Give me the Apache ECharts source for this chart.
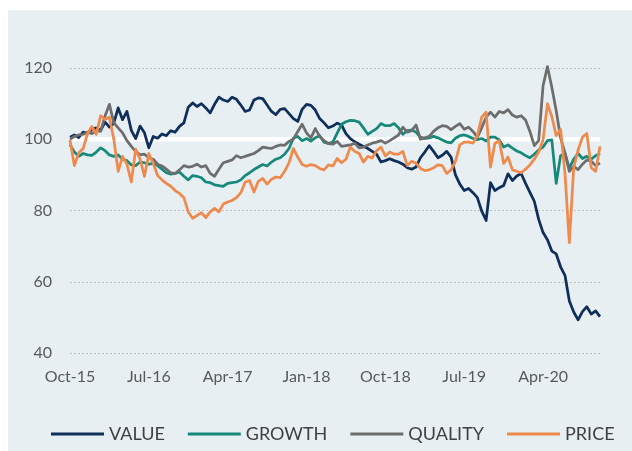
<!DOCTYPE html>
<html>
<head>
<meta charset="utf-8">
<script src="https://cdn.jsdelivr.net/npm/echarts@6/dist/echarts.min.js"></script>
<style>
  html, body { margin: 0; padding: 0; background: #ffffff; }
  #wrap { position: relative; width: 632px; height: 451px; overflow: hidden; }
  #panel { position: absolute; left: 8px; top: 10px; width: 624px; height: 441px; background: #e7eff3; }
  #chart { position: absolute; left: 0; top: 0; width: 632px; height: 451px; }
</style>
</head>
<body>
<div id="wrap">
  <div id="panel"></div>
  <div id="chart"></div>
</div>
<script>
// Factor index levels (start = 100), sampled every half month from Oct-15.
const VALUE = [
  100.6, 101.2, 100.5, 102.0, 101.6, 102.8, 103.2, 102.5, 104.8, 103.4,
  104.5, 108.8, 105.5, 107.8, 102.5, 100.2, 103.7, 101.8, 97.6, 100.8,
  100.3, 101.5, 101.0, 102.4, 102.0, 103.6, 104.6, 109.0, 110.2, 109.2,
  110.0, 108.8, 107.4, 109.8, 111.8, 111.0, 110.6, 111.8, 111.2, 109.6,
  107.8, 108.2, 111.0, 111.6, 111.4, 109.6, 107.8, 106.9, 108.4, 108.6,
  107.2, 105.8, 105.0, 108.4, 109.8, 109.5, 108.2, 105.8, 104.6, 103.2,
  103.7, 104.5, 104.0, 101.6, 100.2, 99.3, 98.6, 98.0, 97.4, 96.6,
  95.8, 93.6, 94.0, 94.5, 94.0, 93.6, 93.0, 92.0, 91.6, 92.2,
  94.8, 96.4, 98.2, 96.6, 94.8, 95.5, 96.6, 95.0, 90.0, 87.4,
  85.6, 86.2, 85.0, 83.6, 79.8, 77.2, 87.8, 85.6, 86.4, 87.0,
  90.3, 88.4, 89.7, 90.4, 87.6, 85.1, 82.6, 77.5, 73.8, 71.8,
  68.6, 67.8, 64.2, 61.8, 54.6, 51.5, 49.3, 51.6, 53.0, 50.9,
  51.8, 50.2
];

const GROWTH = [
  98.5, 96.4, 95.2, 96.0, 95.6, 95.5, 96.4, 97.6, 96.8, 95.6,
  95.2, 95.6, 94.4, 94.0, 92.8, 92.6, 93.6, 93.4, 93.0, 93.2,
  92.6, 91.6, 90.6, 90.2, 90.4, 90.8, 89.6, 88.6, 89.8, 89.6,
  89.2, 88.0, 87.8, 87.2, 87.0, 86.8, 87.6, 87.8, 88.0, 88.6,
  89.8, 90.6, 91.5, 92.2, 92.9, 92.5, 93.6, 94.4, 94.8, 95.8,
  97.4, 100.3, 100.8, 99.6, 100.2, 99.5, 100.4, 101.0, 99.2, 98.8,
  99.2, 101.7, 104.2, 104.9, 105.3, 105.2, 104.8, 103.2, 101.4, 102.2,
  103.0, 104.4, 103.8, 103.8, 104.4, 103.2, 101.4, 102.4, 102.6, 102.0,
  100.6, 100.2, 100.4, 100.8, 100.4, 99.8, 99.2, 99.0, 100.3, 101.0,
  101.2, 100.8, 100.2, 99.9, 100.2, 99.5, 100.6, 100.6, 99.8, 97.8,
  98.4, 97.5, 96.7, 96.2, 95.4, 94.8, 95.8, 97.0, 97.8, 99.6,
  99.8, 87.6, 95.4, 96.0, 91.8, 94.4, 96.0, 94.6, 95.2, 94.4,
  95.4, 96.0
];

const QUALITY = [
  100.0, 100.8, 101.2, 101.4, 102.0, 101.6, 102.4, 102.2, 106.5, 109.8,
  104.6, 103.2, 101.8, 99.6, 98.0, 96.6, 95.6, 95.8, 94.8, 94.4,
  93.0, 92.5, 91.6, 90.6, 90.4, 91.4, 92.6, 92.2, 92.4, 93.0,
  92.2, 92.6, 90.4, 89.6, 91.6, 93.4, 93.8, 94.2, 95.4, 94.8,
  95.2, 95.6, 96.0, 96.8, 97.8, 97.6, 97.4, 98.0, 98.4, 98.3,
  99.4, 100.0, 102.2, 104.2, 101.8, 100.4, 103.0, 100.8, 99.6, 98.8,
  98.6, 99.4, 98.0, 98.2, 98.4, 98.9, 97.6, 97.8, 98.4, 98.9,
  99.2, 99.6, 98.9, 99.6, 100.4, 101.2, 103.4, 102.0, 102.4, 104.0,
  100.0, 100.4, 100.8, 102.2, 103.2, 103.8, 103.6, 102.7, 103.6, 104.4,
  102.8, 103.4, 102.2, 100.6, 103.2, 106.2, 107.6, 106.2, 107.8, 107.4,
  108.3, 106.8, 106.2, 106.6, 105.4, 102.2, 98.2, 99.6, 115.0, 120.4,
  114.6, 108.0, 100.4, 96.2, 91.0, 92.4, 91.5, 93.0, 94.2, 93.8,
  92.6, 93.3
];

const PRICE = [
  99.8, 92.6, 96.2, 97.4, 101.6, 103.6, 101.4, 106.6, 105.6, 106.2,
  100.0, 91.0, 95.2, 93.0, 88.0, 97.2, 94.4, 89.6, 96.0, 93.2,
  89.8, 88.6, 87.6, 86.8, 85.6, 84.8, 83.6, 79.6, 77.8, 78.6,
  79.4, 78.0, 79.6, 80.6, 79.6, 81.8, 82.4, 82.8, 83.6, 85.0,
  88.0, 88.4, 85.2, 88.2, 89.0, 87.4, 88.8, 89.4, 89.2, 91.0,
  93.4, 97.4, 95.0, 92.9, 92.4, 92.9, 92.6, 91.8, 91.4, 92.8,
  92.5, 94.6, 93.4, 94.4, 97.8, 96.6, 96.0, 93.6, 95.2, 94.7,
  96.8, 97.8, 95.3, 96.4, 95.8, 95.8, 96.6, 92.6, 93.8, 93.3,
  91.8, 91.2, 91.4, 92.0, 92.8, 92.6, 90.4, 91.4, 93.8, 98.4,
  99.2, 99.2, 98.9, 101.0, 106.2, 107.6, 92.2, 98.8, 99.6, 93.2,
  95.0, 91.4, 91.0, 90.6, 91.6, 92.8, 94.4, 96.4, 99.8, 110.0,
  106.4, 101.0, 102.8, 90.5, 71.0, 92.0, 97.0, 100.6, 101.6, 92.0,
  91.0, 98.0
];

// Axis labels, one every nine months starting Oct-15
const tickLabels = ['Oct-15', 'Jul-16', 'Apr-17', 'Jan-18', 'Oct-18', 'Jul-19', 'Apr-20'];
const seriesNames = ['VALUE', 'GROWTH', 'QUALITY', 'PRICE'];
const seriesColors = ['#0f2f5b', '#17897b', '#6d6d6d', '#f08a4c'];
const BASELINE = 100;

// x position of each sample in months since Oct-15
const toPairs = arr => arr.map((v, i) => [i / 2, v]);
const lastMonth = (VALUE.length - 1) / 2;

const chart = echarts.init(document.getElementById('chart'), null, { renderer: 'canvas' });
const font = 'Lato, "Open Sans", "Noto Sans", sans-serif';

const lineSeries = [VALUE, GROWTH, QUALITY, PRICE].map((arr, k) => ({
  name: seriesNames[k],
  type: 'line',
  data: toPairs(arr),
  showSymbol: false,
  symbol: 'none',
  clip: false,
  z: 3,
  color: seriesColors[k],
  itemStyle: { color: seriesColors[k] },
  lineStyle: { color: seriesColors[k], width: 2.75, join: 'round' },
  emphasis: { disabled: true },
  animation: false
}));

chart.setOption({
  backgroundColor: 'transparent',
  animation: false,
  textStyle: { fontFamily: font },
  grid: { left: 70, right: 32, top: 68, bottom: 98, containLabel: false, outerBoundsMode: 'none' },
  xAxis: {
    type: 'value',
    min: 0,
    max: lastMonth,
    interval: 9,
    axisLine: { show: false },
    axisTick: { show: false },
    splitLine: { show: false },
    axisLabel: {
      color: '#595959',
      fontSize: 16,
      fontFamily: font,
      margin: 16,
      showMaxLabel: false,
      formatter: v => (v % 9 === 0 && tickLabels[v / 9] !== undefined) ? tickLabels[v / 9] : ''
    }
  },
  yAxis: {
    type: 'value',
    min: 40,
    max: 120,
    interval: 20,
    axisLine: { show: false },
    axisTick: { show: false },
    axisLabel: { color: '#595959', fontSize: 16, fontFamily: font, margin: 18 },
    splitLine: { lineStyle: { color: '#bcc2c6', width: 1, type: [2, 2] } }
  },
  legend: {
    data: seriesNames,
    left: 46,
    top: 420,
    icon: 'rect',
    itemWidth: 53,
    itemHeight: 3,
    itemGap: 23,
    textStyle: { color: '#404040', fontSize: 18, fontFamily: font },
    selectedMode: false
  },
  series: [
    {
      name: 'baseline',
      type: 'line',
      data: [[0, BASELINE], [lastMonth, BASELINE]],
      showSymbol: false,
      symbol: 'none',
      z: 1,
      lineStyle: { color: '#ffffff', width: 4.5 },
      emphasis: { disabled: true },
      silent: true,
      animation: false
    }
  ].concat(lineSeries)
});
</script>
</body>
</html>
